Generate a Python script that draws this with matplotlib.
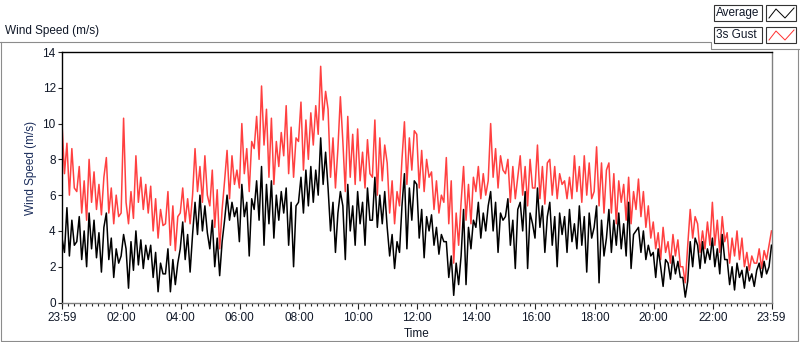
import matplotlib
matplotlib.use("Agg")
import matplotlib.pyplot as plt
from matplotlib.lines import Line2D
from matplotlib.patches import Rectangle
from matplotlib.ticker import FixedLocator
import numpy as np

plt.rcParams['font.family'] = ['Liberation Sans', 'DejaVu Sans']
plt.rcParams['font.size'] = 8

# ---------- DATA (one sample every 5 minutes from 23:59) ----------
step_min = 5

gust = [
    10.0, 7.2, 8.9, 6.0, 8.6, 6.4,   6.2, 7.6, 5.0, 6.8, 4.6, 8.0,
    5.6, 7.3, 5.2, 6.6, 4.9, 7.0,    8.1, 5.0, 6.4, 4.4, 6.0, 4.8,
    5.0, 10.3, 5.6, 4.4, 6.2, 4.7,   8.2, 5.6, 7.0, 5.2, 6.6, 5.0,
    6.5, 4.0, 5.8, 3.6, 5.2, 4.3,    4.4, 6.2, 3.2, 5.4, 2.9, 4.8,
    5.0, 6.4, 4.5, 5.8, 4.4, 6.0,    8.6, 6.2, 7.6, 5.6, 8.2, 6.0,
    5.4, 7.4, 4.2, 6.3, 3.0, 5.2,    6.8, 8.5, 5.8, 8.2, 6.6, 7.4,
    6.4, 10.0, 7.2, 8.6, 6.2, 9.0,   8.6, 10.4, 8.0, 12.1, 8.8, 10.8,
    7.0, 10.3, 6.6, 9.0, 7.6, 9.5,   8.2, 11.0, 7.2, 9.8, 7.0, 9.2,
    9.0, 11.2, 7.4, 10.2, 8.0, 10.6, 8.8, 11.0, 9.4, 13.2, 10.2, 11.8,
    10.8, 7.0, 9.2, 6.4, 8.6, 11.5,  9.0, 6.2, 10.4, 7.0, 9.4, 6.6,
    9.7, 6.8, 8.4, 6.4, 9.1, 7.2,    7.0, 10.2, 6.0, 9.2, 6.8, 8.8,
    7.8, 5.0, 6.8, 4.4, 6.2, 5.4,    8.0, 10.1, 6.6, 9.2, 7.4, 9.6,
    9.4, 6.4, 8.5, 6.2, 8.0, 7.0,    7.3, 5.2, 6.8, 5.0, 6.0, 5.6,
    8.1, 4.4, 6.8, 2.2, 5.0, 3.2,    5.6, 7.6, 4.6, 6.6, 4.4, 7.0,
    6.2, 7.6, 5.8, 7.2, 6.0, 6.8,    10.0, 7.0, 8.6, 6.4, 8.2, 7.4,
    7.2, 8.0, 5.6, 7.6, 5.8, 7.0,    8.2, 6.0, 7.6, 5.4, 8.0, 6.4,
    6.4, 8.8, 5.8, 7.6, 5.5, 7.8,    8.0, 6.0, 7.6, 5.8, 7.2, 6.6,
    6.8, 5.8, 7.0, 5.8, 8.2, 6.2,    7.6, 5.6, 8.2, 6.0, 7.8, 5.8,
    6.2, 8.7, 5.4, 7.8, 5.0, 7.4,    7.8, 5.0, 7.2, 4.4, 6.8, 5.6,
    6.6, 4.6, 7.0, 4.4, 6.2, 5.2,    6.9, 4.8, 6.2, 4.2, 5.4, 3.6,
    4.5, 3.0, 3.9, 2.4, 4.2, 2.8,    3.4, 2.2, 3.8, 2.6, 3.5, 2.0,
    2.0, 1.1, 3.2, 5.2, 3.6, 4.8,    4.4, 2.8, 4.0, 3.0, 4.5, 3.2,
    5.6, 3.2, 4.6, 2.8, 4.8, 3.4,    3.9, 2.2, 3.6, 2.6, 4.0, 2.4,
    3.6, 2.0, 2.8, 1.8, 2.6, 2.2,    2.2, 3.0, 1.9, 2.9, 2.4, 3.2,
    4.0,
]

average = [
    3.6, 2.8, 5.3, 2.6, 4.6, 3.2,    3.4, 4.8, 2.4, 4.0, 2.0, 5.0,
    3.0, 4.6, 2.5, 3.9, 1.7, 4.2,    5.0, 2.4, 3.6, 1.4, 3.0, 2.2,
    2.6, 3.8, 3.0, 0.8, 3.4, 1.8,    4.0, 2.1, 3.5, 1.9, 3.2, 2.4,
    3.2, 1.4, 2.8, 0.6, 2.2, 1.6,    1.6, 3.0, 0.6, 2.4, 1.0, 2.2,
    3.0, 4.5, 2.4, 3.8, 1.7, 3.8,    5.6, 3.8, 6.0, 4.0, 5.4, 3.9,
    3.0, 4.6, 2.0, 3.6, 1.5, 3.4,    4.6, 6.0, 4.6, 5.6, 4.8, 5.3,
    3.4, 6.6, 4.8, 5.6, 2.6, 5.8,    5.2, 6.8, 4.6, 7.6, 3.2, 6.6,
    4.4, 6.8, 3.6, 6.0, 4.6, 6.2,    5.0, 6.4, 3.2, 5.6, 2.0, 5.4,
    5.6, 7.0, 5.0, 7.4, 5.4, 7.6,    5.6, 7.4, 6.0, 9.2, 6.6, 8.4,
    6.4, 4.0, 5.6, 2.8, 5.0, 6.2,    5.4, 2.4, 6.6, 4.0, 5.4, 3.2,
    6.2, 4.4, 5.6, 3.2, 6.4, 4.6,    4.6, 7.0, 4.2, 6.0, 4.4, 6.2,
    4.2, 2.6, 3.8, 1.9, 3.4, 2.8,    5.4, 7.2, 3.0, 6.4, 4.6, 6.8,
    6.6, 3.6, 5.2, 2.5, 4.8, 4.0,    4.9, 3.2, 4.2, 2.7, 3.8, 3.4,
    3.4, 1.4, 2.6, 0.4, 2.2, 1.0,    2.6, 5.2, 1.0, 4.2, 3.0, 4.6,
    4.2, 5.6, 3.6, 5.0, 4.0, 5.4,    6.2, 4.0, 5.6, 2.8, 5.0, 4.6,
    4.8, 5.8, 3.2, 4.6, 1.9, 5.2,    5.6, 4.0, 6.2, 1.9, 5.0, 4.4,
    3.6, 6.4, 4.2, 5.4, 2.8, 4.8,    5.6, 3.2, 4.8, 2.0, 5.0, 3.8,
    4.8, 2.8, 5.2, 3.4, 4.4, 3.0,    5.4, 3.2, 4.8, 1.7, 5.0, 3.6,
    4.2, 5.4, 1.1, 4.6, 2.6, 3.6,    5.2, 2.8, 4.6, 3.2, 5.0, 3.0,
    4.4, 2.6, 5.6, 1.9, 3.8, 4.0,    4.2, 2.8, 4.0, 2.4, 3.2, 2.6,
    2.8, 1.4, 3.0, 2.0, 0.9, 2.4,    2.2, 1.3, 2.6, 1.6, 2.3, 1.4,
    1.4, 0.3, 1.2, 3.4, 2.0, 3.6,    3.2, 1.9, 3.4, 2.2, 3.0, 2.4,
    3.6, 2.0, 3.0, 1.6, 3.8, 2.4,    2.4, 1.0, 2.0, 0.7, 2.2, 1.4,
    1.8, 0.8, 2.0, 1.2, 1.6, 0.9,    1.8, 2.2, 1.4, 2.3, 1.6, 2.0,
    3.2,
]

tick_minutes = [0, 121, 241, 361, 481, 601, 721, 841, 961, 1081, 1201, 1321, 1440]
tick_labels = ["23:59", "02:00", "04:00", "06:00", "08:00", "10:00", "12:00",
               "14:00", "16:00", "18:00", "20:00", "22:00", "23:59"]
y_ticks = [0, 2, 4, 6, 8, 10, 12, 14]

minutes = np.arange(len(gust)) * step_min

# ---------- FIGURE ----------
W, H = 800, 342
fig = plt.figure(figsize=(W / 100, H / 100), dpi=100, facecolor='white')


def fx(x):
    return x / W


def fy(y):
    return 1 - y / H


ax = fig.add_axes([fx(62), fy(302.5), (771.5 - 62) / W, (302.5 - 52) / H])

ax.plot(minutes, gust, color='#ff4040', lw=1.1, zorder=2)
ax.plot(minutes, average, color='black', lw=1.1, zorder=3)

ax.set_xlim(0, 1440)
ax.set_ylim(0, 14)

ax.xaxis.set_major_locator(FixedLocator(tick_minutes))
ax.set_xticklabels(tick_labels)
ax.xaxis.set_minor_locator(FixedLocator(np.arange(1, 1440, 12)))
ax.set_yticks(y_ticks)
ax.set_yticklabels([str(v) for v in y_ticks])

txt_col = '#101828'
ax.tick_params(axis='x', which='major', direction='out', length=4, width=0.8,
               color='#222222', labelcolor=txt_col, pad=3, labelsize=8.5)
ax.tick_params(axis='x', which='minor', direction='out', length=2.5, width=0.8,
               color='#222222')
ax.tick_params(axis='y', direction='out', length=3, width=0.8,
               color='#222222', labelcolor=txt_col, pad=1.5, labelsize=8.5)

for side in ['left', 'top']:
    ax.spines[side].set_color('black')
    ax.spines[side].set_linewidth(1.0)
for side in ['right', 'bottom']:
    ax.spines[side].set_color('#808080')
    ax.spines[side].set_linewidth(1.0)

ax.set_ylabel("Wind Speed (m/s)", color='#1c2e5c', fontsize=8.5)
ax.yaxis.set_label_coords(-0.035, 0.537)
ax.set_xlabel("Time", color=txt_col, fontsize=8.5)
ax.xaxis.set_label_coords(0.5, -0.102)

# ---------- PANEL FRAME ----------
gray = '#8c8c8c'
def fig_line(xs, ys, color=gray, lw=0.8):
    fig.add_artist(Line2D([fx(v) for v in xs], [fy(v) for v in ys],
                          transform=fig.transFigure, color=color, lw=lw))

fig_line([0.5, 0.5, 798, 798], [42, 341, 341, 49])
fig_line([0, 711, 711, 800], [42, 42, 49, 49])

fig.text(fx(5), fy(31), "Wind Speed (m/s)", ha='left', va='center',
         color=txt_col, fontsize=8.5)

# ---------- LEGEND (LabVIEW style) ----------
rows = [("Average", 'black', 5), ("3s Gust", '#ff3030', 27)]
for label, col, top in rows:
    fig.add_artist(Rectangle((fx(714), fy(top + 16)), 48 / W, 16 / H,
                             transform=fig.transFigure, facecolor='white',
                             edgecolor='#333333', lw=0.8))
    fig.add_artist(Rectangle((fx(766), fy(top + 16)), 30 / W, 16 / H,
                             transform=fig.transFigure, facecolor='white',
                             edgecolor='#333333', lw=0.8))
    fig.text(fx(716), fy(top + 8), label, ha='left', va='center',
             color=txt_col, fontsize=8.5)
    fig_line([769, 776, 785, 794], [top + 13, top + 4, top + 13, top + 3],
             color=col, lw=0.7)

fig.savefig("out.png", dpi=100, facecolor='white')
